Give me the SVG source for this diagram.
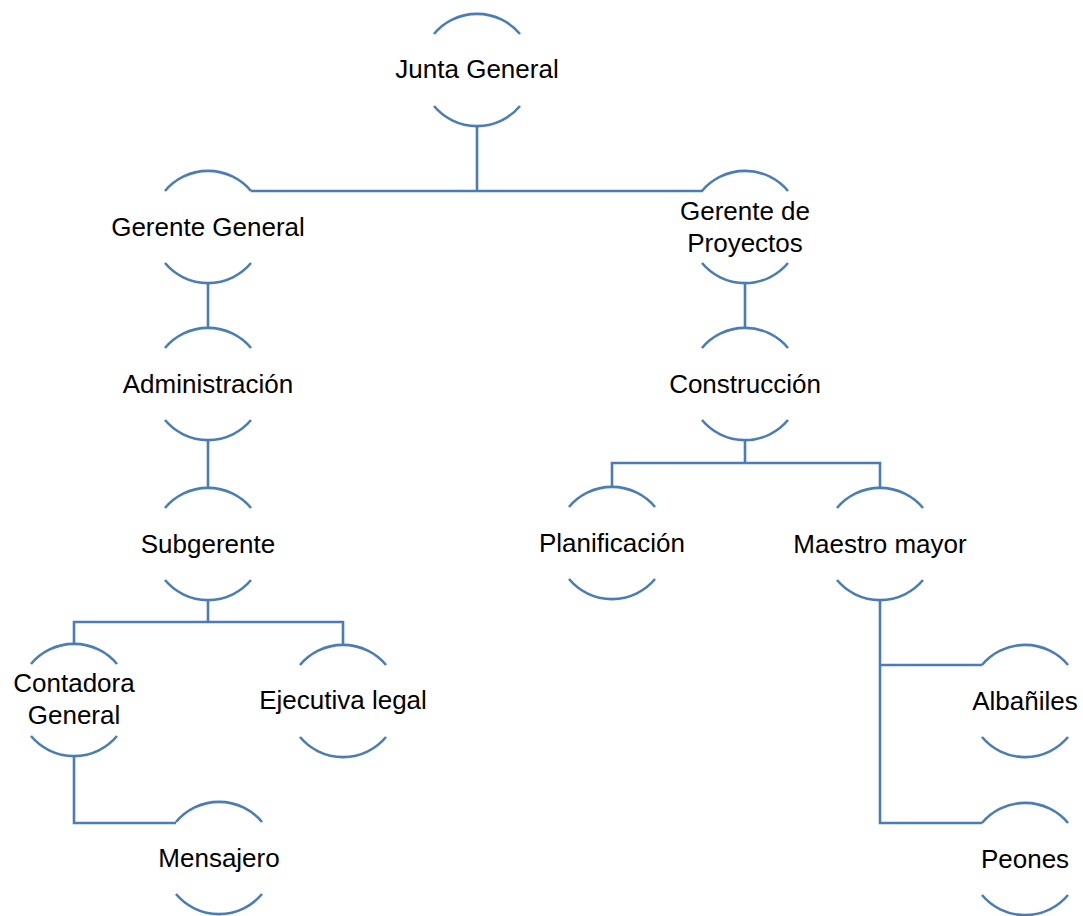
<svg xmlns="http://www.w3.org/2000/svg" xmlns:xlink="http://www.w3.org/1999/xlink" width="1083" height="916" viewBox="0 0 1083 916">
  <style>
    .ring { fill: none; stroke: #4a7db5; stroke-width: 2.6; }
    .link { fill: none; stroke: #4a7db5; stroke-width: 2.6; }
    .label { font-family: "Liberation Sans", Arial, sans-serif; font-size: 26px; fill: #000; text-anchor: middle; }
  </style>
  <defs>
    <!-- open circle: only the top and bottom arcs of a r=56 ring -->
    <path id="ring" class="ring" d="M -43,-36 A 56,56 0 0 1 43,-36 M -43,36 A 56,56 0 0 0 43,36"/>
  </defs>
  <rect width="1083" height="916" fill="#fff"/>

  <g id="connectors">
    <path class="link" d="M 477,126 V 191 M 251,191 H 703"/>
    <path class="link" d="M 208,283 V 328"/>
    <path class="link" d="M 208,440 V 488"/>
    <path class="link" d="M 208,600 V 622 M 74,644 V 622 H 343 V 645"/>
    <path class="link" d="M 74,757 V 823 H 176"/>
    <path class="link" d="M 745,283 V 328"/>
    <path class="link" d="M 745,440 V 463 M 612,487 V 463 H 880 V 488"/>
    <path class="link" d="M 880,600 V 823 H 982 M 880,665 H 982"/>
  </g>

  <g id="junta-general">
    <use xlink:href="#ring" x="477" y="70"/>
    <text class="label" x="477" y="78">Junta General</text>
  </g>
  <g id="gerente-general">
    <use xlink:href="#ring" x="208" y="227"/>
    <text class="label" x="208" y="236">Gerente General</text>
  </g>
  <g id="gerente-proyectos">
    <use xlink:href="#ring" x="745" y="227"/>
    <text class="label" x="745" y="220">Gerente de</text>
    <text class="label" x="745" y="252">Proyectos</text>
  </g>
  <g id="administracion">
    <use xlink:href="#ring" x="208" y="384"/>
    <text class="label" x="208" y="393">Administración</text>
  </g>
  <g id="construccion">
    <use xlink:href="#ring" x="745" y="384"/>
    <text class="label" x="745" y="393">Construcción</text>
  </g>
  <g id="subgerente">
    <use xlink:href="#ring" x="208" y="544"/>
    <text class="label" x="208" y="553">Subgerente</text>
  </g>
  <g id="planificacion">
    <use xlink:href="#ring" x="612" y="543"/>
    <text class="label" x="612" y="552">Planificación</text>
  </g>
  <g id="maestro-mayor">
    <use xlink:href="#ring" x="880" y="544"/>
    <text class="label" x="880" y="553">Maestro mayor</text>
  </g>
  <g id="contadora-general">
    <use xlink:href="#ring" x="74" y="700"/>
    <text class="label" x="74" y="692">Contadora</text>
    <text class="label" x="74" y="724">General</text>
  </g>
  <g id="ejecutiva-legal">
    <use xlink:href="#ring" x="343" y="701"/>
    <text class="label" x="343" y="709">Ejecutiva legal</text>
  </g>
  <g id="mensajero">
    <use xlink:href="#ring" x="219" y="858"/>
    <text class="label" x="219" y="867">Mensajero</text>
  </g>
  <g id="albaniles">
    <use xlink:href="#ring" x="1025" y="701"/>
    <text class="label" x="1025" y="710">Albañiles</text>
  </g>
  <g id="peones">
    <use xlink:href="#ring" x="1025" y="859"/>
    <text class="label" x="1025" y="868">Peones</text>
  </g>
</svg>
